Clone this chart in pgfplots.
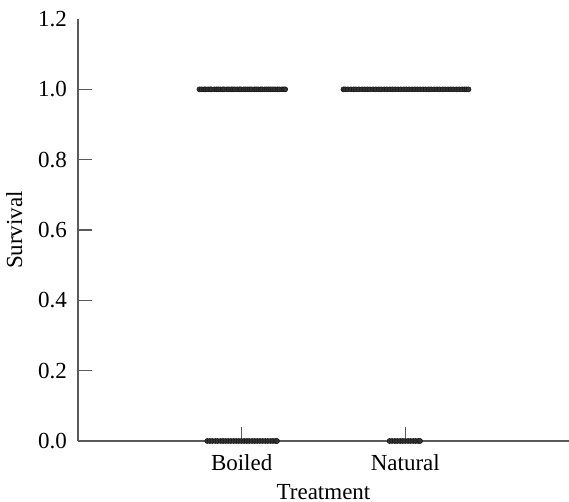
\documentclass[border=0pt]{standalone}
\usepackage{fontspec}
\setmainfont{Liberation Serif}
\usepackage{pgfplots}
\pgfplotsset{compat=1.18}
\usetikzlibrary{calc}
\definecolor{axisgray}{RGB}{90,90,90}
\definecolor{ptfill}{RGB}{50,50,50}
\definecolor{ptdraw}{RGB}{25,25,25}
\begin{document}
\begin{tikzpicture}
\begin{axis}[
  scale only axis,
  width=245.5pt, height=211pt,
  xmin=0, xmax=3, ymin=0, ymax=1.2,
  axis x line=bottom, axis y line=left,
  axis line style={-, draw=axisgray, line width=0.6pt},
  every tick/.style={draw=axisgray, line width=0.6pt},
  tick align=inside,
  major tick length=7pt,
  xtick={1,2}, xticklabels={Boiled,Natural},
  ytick={0,0.2,0.4,0.6,0.8,1.0},
  extra y ticks={1.2},
  extra y tick style={major tick length=0pt},
  yticklabel style={/pgf/number format/fixed,/pgf/number format/fixed zerofill,/pgf/number format/precision=1, xshift=-2pt},
  /pgf/number format/assume math mode=true,
  font=\fontsize{11.5}{13.5}\selectfont,
  ticklabel style={font=\fontsize{11.5}{13.5}\selectfont},
  xticklabel style={yshift=-3pt},
  xlabel={Treatment}, ylabel={Survival},
  xlabel style={yshift=0pt},
  ylabel style={yshift=1pt},
  clip=false,
]
\addplot[only marks, mark=*, mark size=1.25pt, mark options={fill=ptfill, draw=ptdraw, line width=0.3pt}] coordinates {
(0.742,1) (0.755,1) (0.771,1) (0.779,1) (0.794,1) (0.808,1) (0.815,1) (0.833,1) (0.846,1) (0.857,1) (0.869,1) (0.884,1) (0.893,1) (0.911,1) (0.922,1) (0.936,1) (0.947,1) (0.958,1) (0.973,1) (0.986,1) (0.995,1) (1.012,1) (1.024,1) (1.037,1) (1.049,1) (1.061,1) (1.078,1) (1.089,1) (1.102,1) (1.117,1) (1.126,1) (1.141,1) (1.153,1) (1.166,1) (1.178,1) (1.191,1) (1.204,1) (1.219,1) (1.231,1) (1.247,1) (1.258,1) (1.266,1)
};
\addplot[only marks, mark=*, mark size=1.25pt, mark options={fill=ptfill, draw=ptdraw, line width=0.3pt}] coordinates {
(1.622,1) (1.633,1) (1.648,1) (1.667,1) (1.684,1) (1.699,1) (1.716,1) (1.735,1) (1.751,1) (1.768,1) (1.784,1) (1.803,1) (1.819,1) (1.836,1) (1.852,1) (1.871,1) (1.887,1) (1.905,1) (1.921,1) (1.938,1) (1.955,1) (1.972,1) (1.990,1) (2.006,1) (2.023,1) (2.041,1) (2.057,1) (2.074,1) (2.091,1) (2.108,1) (2.124,1) (2.142,1) (2.158,1) (2.176,1) (2.193,1) (2.209,1) (2.227,1) (2.243,1) (2.261,1) (2.277,1) (2.294,1) (2.312,1) (2.329,1) (2.346,1) (2.361,1) (2.374,1) (2.386,1)
};
\addplot[only marks, mark=*, mark size=1.25pt, mark options={fill=ptfill, draw=ptdraw, line width=0.3pt}] coordinates {
(0.790,0) (0.806,0) (0.821,0) (0.839,0) (0.853,0) (0.871,0) (0.886,0) (0.902,0) (0.918,0) (0.934,0) (0.951,0) (0.967,0) (0.982,0) (0.998,0) (1.015,0) (1.031,0) (1.046,0) (1.063,0) (1.079,0) (1.095,0) (1.111,0) (1.127,0) (1.144,0) (1.159,0) (1.176,0) (1.191,0) (1.207,0) (1.216,0)
};
\addplot[only marks, mark=*, mark size=1.25pt, mark options={fill=ptfill, draw=ptdraw, line width=0.3pt}] coordinates {
(1.904,0) (1.919,0) (1.936,0) (1.951,0) (1.968,0) (1.983,0) (1.999,0) (2.016,0) (2.031,0) (2.048,0) (2.063,0) (2.079,0) (2.090,0)
};
\end{axis}
\pgfresetboundingbox
\path ($(current axis.south west)+(-39pt,-30.5pt)$) rectangle ($(current axis.north east)+(0pt,9.5pt)$);
\end{tikzpicture}
\end{document}
